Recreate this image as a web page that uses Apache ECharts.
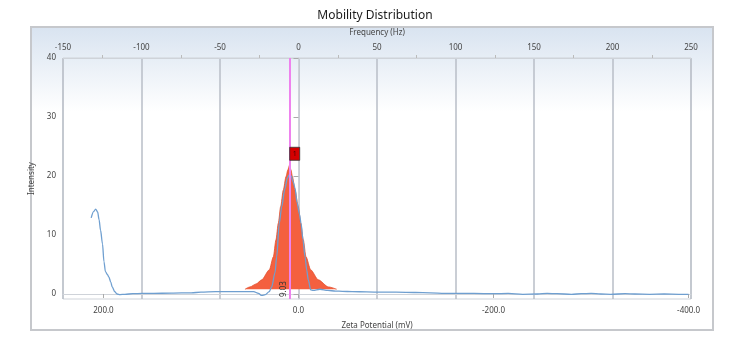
<!DOCTYPE html>
<html>
<head>
<meta charset="utf-8">
<script src="https://cdn.jsdelivr.net/npm/echarts@6/dist/echarts.min.js"></script>
<style>
  html, body { margin: 0; padding: 0; background: #ffffff; }
  #chart { width: 750px; height: 346px; }
</style>
</head>
<body>
<div id="chart"></div>
<script>
// Measured intensity vs zeta potential (mV)
const measuredZeta = [212.6, 210, 208, 206, 204.5, 203, 201, 199.5, 198, 196, 194.5, 192.5, 191, 188.5, 186, 183, 178, 170, 160, 150, 130, 110, 100, 85, 70, 55, 46, 41, 37.7, 34, 30, 27.5, 24.1, 22.4, 19.7, 17.2, 14, 11.5, 9.5, 7.5, 5.5, 3.6, 1.5, -1, -2.6, -4.5, -6.7, -8.5, -10, -12.5, -15, -22, -30, -38, -45, -55, -70, -85, -100, -120, -135, -150, -165, -180, -200, -215, -230, -245, -255, -265, -280, -290, -300, -310, -320, -335, -345, -360, -375, -390, -400];
const measuredIntensity = [12.9, 14.0, 14.4, 13.9, 12.6, 10.8, 8.5, 5.5, 3.8, 3.3, 2.9, 2.0, 1.2, 0.4, 0.0, -0.1, -0.05, 0.05, 0.1, 0.1, 0.15, 0.2, 0.3, 0.4, 0.4, 0.4, 0.4, 0.1, -0.25, -0.1, 0.4, 1.2, 3.6, 6.3, 12.0, 14.8, 17.8, 19.6, 20.2, 20.0, 19.0, 18.0, 15.5, 13.5, 12.0, 9.3, 6.3, 4.0, 2.4, 0.7, 0.6, 0.8, 0.6, 0.5, 0.45, 0.4, 0.35, 0.3, 0.3, 0.25, 0.2, 0.1, 0.1, 0.1, 0.05, 0.1, -0.05, 0.0, 0.1, 0.05, -0.05, 0.05, 0.1, 0.0, -0.05, 0.05, 0.0, -0.05, 0.0, -0.05, -0.05];

// Fitted peak 1
const peakZeta = [54.9, 49.7, 43.5, 37.7, 29.9, 25.8, 23.1, 20.7, 18.3, 15.6, 12.8, 11.0, 9.03, 7.7, 6.2, 3.6, 0.2, -2.3, -4.9, -7.7, -12.5, -20.3, -30.6, -39.2];
const peakIntensity = [0.8, 1.2, 1.7, 2.4, 4.1, 6.3, 9.2, 12.0, 14.8, 17.6, 19.9, 21.0, 21.9, 21.0, 19.9, 17.6, 14.8, 12.0, 9.2, 6.3, 4.1, 2.4, 1.2, 0.8];
const peakBase = 0.8;
const peakMean = 9.03;
const peakTop = 21.9;
const peakNames = ['1'];

// Axis ticks
const zetaTicks = [200, 0, -200, -400];
const intensityTicks = [0, 10, 20, 30, 40];
const freqRange = [-150, 250];
const zetaRange = [-402.5, 241.5];
const intensityRange = [-0.85, 40];

const zip = (xs, ys) => xs.map((x, i) => [x, ys[i]]);

const gridColor = '#b9bec7';
const frameColor = '#cfd3d9';
const labelColor = '#444';
const fontFamily = 'Noto Sans, DejaVu Sans, sans-serif';

const chart = echarts.init(document.getElementById('chart'));
chart.setOption({
  animation: false,
  backgroundColor: '#ffffff',
  textStyle: { fontFamily: fontFamily },
  title: {
    text: 'Mobility Distribution',
    left: 370,
    textAlign: 'center',
    top: 5,
    textStyle: { fontSize: 12, fontWeight: 'normal', color: '#1a1a1a', fontFamily: fontFamily }
  },
  graphic: [{
    type: 'rect',
    z: -10,
    shape: { x: 31, y: 27, width: 682, height: 303 },
    style: {
      fill: new echarts.graphic.LinearGradient(0, 0, 0, 1, [
        { offset: 0, color: '#d8e3f0' },
        { offset: 0.28, color: '#ffffff' },
        { offset: 1, color: '#ffffff' }
      ]),
      stroke: '#c6c8cc',
      lineWidth: 2
    }
  }],
  grid: {
    left: 63, right: 59, top: 58, bottom: 47,
    show: true,
    backgroundColor: 'transparent',
    borderColor: frameColor,
    borderWidth: 1
  },
  xAxis: [{
    type: 'value',
    position: 'bottom',
    min: zetaRange[0],
    max: zetaRange[1],
    inverse: true,
    name: 'Zeta Potential (mV)',
    nameLocation: 'middle',
    nameGap: 23,
    nameTextStyle: { fontSize: 8, color: labelColor },
    axisLine: { show: true, lineStyle: { color: frameColor } },
    axisTick: { show: true, customValues: zetaTicks, length: 4, lineStyle: { color: '#aaa' } },
    axisLabel: {
      customValues: zetaTicks,
      fontSize: 8,
      color: labelColor,
      margin: 8,
      formatter: v => v.toFixed(1)
    },
    splitLine: { show: false }
  }, {
    type: 'value',
    position: 'top',
    min: freqRange[0],
    max: freqRange[1],
    interval: 50,
    name: 'Frequency (Hz)',
    nameLocation: 'middle',
    nameGap: 21,
    nameTextStyle: { fontSize: 8, color: labelColor },
    axisLine: { show: true, lineStyle: { color: frameColor } },
    axisTick: { show: false },
    minorTick: { show: true, splitNumber: 2, length: 3, lineStyle: { color: '#bbb' } },
    axisLabel: { fontSize: 8, color: labelColor, margin: 6, showMinLabel: true, showMaxLabel: true },
    splitLine: { show: true, lineStyle: { color: gridColor, width: 1.5 } }
  }],
  yAxis: {
    type: 'value',
    min: intensityRange[0],
    max: intensityRange[1],
    name: 'Intensity',
    nameLocation: 'middle',
    nameGap: 22,
    nameTextStyle: { fontSize: 8, color: labelColor },
    axisLine: { show: true, lineStyle: { color: frameColor } },
    axisTick: { show: true, customValues: intensityTicks, length: 5, lineStyle: { color: '#aaa' } },
    axisLabel: { customValues: intensityTicks, fontSize: 8, color: labelColor, margin: 7 },
    splitLine: { show: false }
  },
  series: [{
    name: 'Peak',
    type: 'line',
    xAxisIndex: 0,
    data: zip(peakZeta, peakIntensity),
    smooth: 0.25,
    smoothMonotone: 'x',
    symbol: 'none',
    lineStyle: { color: '#e2502e', width: 0.8 },
    areaStyle: { color: '#f4603f', opacity: 1, origin: peakBase },
    z: 2,
    markLine: {
      silent: true,
      symbol: 'none',
      lineStyle: { color: '#ee82ee', width: 2, type: 'solid' },
      label: {
        show: true,
        position: 'insideStartTop',
        formatter: p => p.value.toFixed(2),
        fontSize: 8,
        color: '#333',
        distance: 2
      },
      data: [{ xAxis: peakMean }]
    },
    markPoint: {
      silent: true,
      symbol: 'rect',
      symbolSize: [10, 13],
      symbolOffset: [5, -11],
      itemStyle: { color: '#d40000', borderColor: '#333', borderWidth: 0.8 },
      label: { show: true, formatter: () => peakNames[0], fontSize: 7, color: '#400' },
      data: [{ coord: [peakMean, peakTop] }]
    }
  }, {
    name: 'Intensity',
    type: 'line',
    xAxisIndex: 0,
    data: zip(measuredZeta, measuredIntensity),
    smooth: 0.3,
    smoothMonotone: 'x',
    symbol: 'none',
    lineStyle: { color: '#6f9fd0', width: 1.3 },
    z: 3
  }]
});
</script>
</body>
</html>
